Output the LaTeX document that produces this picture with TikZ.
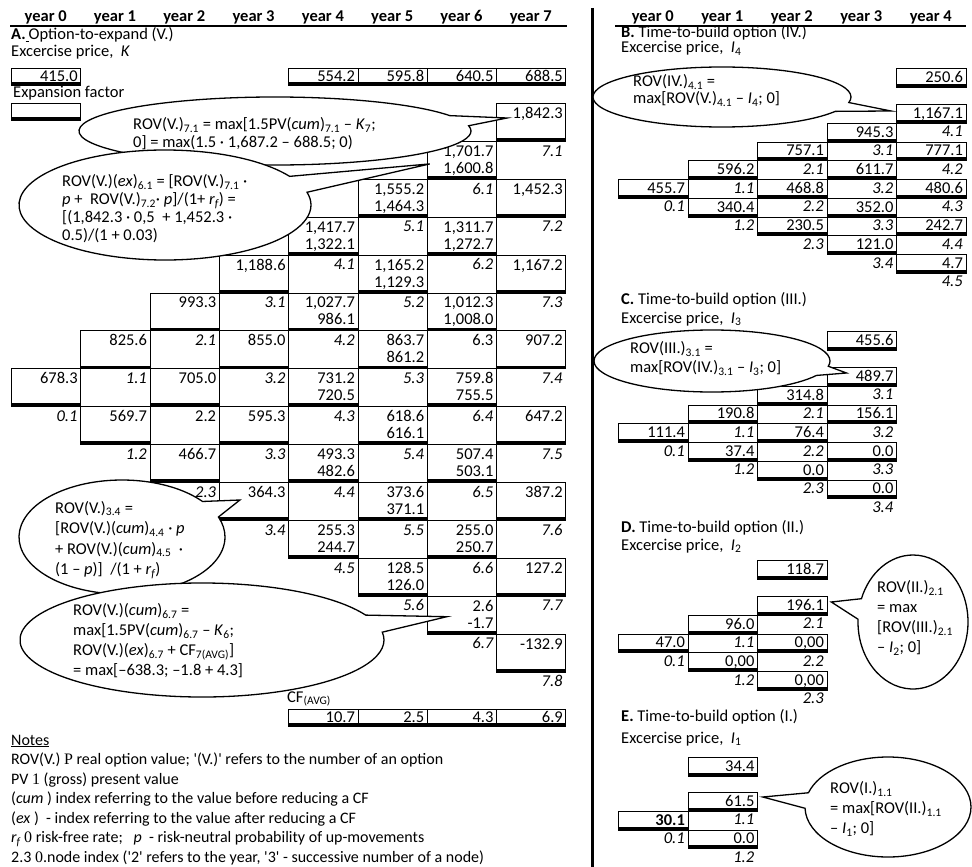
\documentclass[tikz,border=0pt]{standalone}
\usepackage{fontspec}
\setmainfont{Carlito}
\newfontfamily\serifglyph{Liberation Serif}
\usetikzlibrary{shapes.callouts}
\usetikzlibrary{calc}
\newcommand\tabfont{\fontsize{16.5}{19}\selectfont}
\newcommand\cellfont{\fontsize{16.5}{17}\selectfont}
\newcommand\notefont{\fontsize{16}{19}\selectfont}

\begin{document}
\begin{tikzpicture}[x=1pt,y=-1pt,font=\tabfont,
    cellline/.style={draw,line width=0.8pt,path picture={\draw[line width=6.4pt] (path picture bounding box.south west) -- (path picture bounding box.south east);}},
    lbox/.style={anchor=north west,minimum width=69.3pt,text width=63.3pt,align=right,inner xsep=3pt,inner ysep=0pt,text height=15pt,text depth=22.9pt,font=\cellfont},
    lcell/.style={lbox,cellline},
    lidx/.style={lbox,font=\cellfont\itshape},
    rbox/.style={anchor=north west,minimum width=69.5pt,text width=63.5pt,align=right,inner xsep=3pt,inner ysep=0pt,text height=14pt,text depth=4.75pt},
    rcell/.style={rbox,cellline},
    ridx/.style={rbox,font=\tabfont\itshape},
    pbox/.style={lcell,text height=13pt,text depth=4pt},
    head/.style={anchor=base,font=\tabfont\bfseries},
    title/.style={anchor=base west,inner sep=0pt},
    note/.style={anchor=base west,inner sep=0pt,font=\notefont},
    bubble/.style={ellipse callout,draw,fill=white,line width=1.3pt,inner sep=0pt,callout pointer arc=18},
    bubtext/.style={anchor=north west,align=left,inner sep=0pt}]
\useasboundingbox (0,0) rectangle (972,867);

% headers and divider
\node[head] (ya0) at (45.7,21.7) {year 0};
\node[head] (ya1) at (115,21.7) {year 1};
\node[head] (ya2) at (184.3,21.7) {year 2};
\node[head] (ya3) at (253.6,21.7) {year 3};
\node[head] (ya4) at (322.9,21.7) {year 4};
\node[head] (ya5) at (392.2,21.7) {year 5};
\node[head] (ya6) at (461.5,21.7) {year 6};
\node[head] (ya7) at (530.8,21.7) {year 7};
\node[head] (yb0) at (652.8,21.7) {year 0};
\node[head] (yb1) at (722.3,21.7) {year 1};
\node[head] (yb2) at (791.8,21.7) {year 2};
\node[head] (yb3) at (861.3,21.7) {year 3};
\node[head] (yb4) at (930.8,21.7) {year 4};
\draw[line width=1.8pt] (10,26) -- (567,26);
\draw[line width=1.8pt] (615,26) -- (966,26);
\draw[line width=3pt] (592,8) -- (592,867);

% A. option to expand
\node[title] (tA) at (11,39.5) {\textbf{A.}\underline{\hspace{3pt}}Option-to-expand (V.)};
\node[title] (kA) at (11,57) {Excercise price,\ \ \textit{K}};
\node[pbox] (pA0) at (11,68) {415.0};
\node[pbox] (pA4) at (288.2,68) {554.2};
\node[pbox] (pA5) at (357.5,68) {595.8};
\node[pbox] (pA6) at (426.8,68) {640.5};
\node[pbox] (pA7) at (496.1,68) {688.5};
\node[title] (eA) at (13,97) {Expansion factor};
\node[pbox] (fA0) at (11,103) {};

\begin{scope}[shift={(11,103)},x=69.3pt,y=-37.9pt]
\node[lcell] (a71) at (7,0) {1,842.3};
\node[lidx] (ai71) at (7,1) {7.1};
\node[lcell] (a72) at (7,2) {1,452.3};
\node[lidx] (ai72) at (7,3) {7.2};
\node[lcell] (a73) at (7,4) {1,167.2};
\node[lidx] (ai73) at (7,5) {7.3};
\node[lcell] (a74) at (7,6) {907.2};
\node[lidx] (ai74) at (7,7) {7.4};
\node[lcell] (a75) at (7,8) {647.2};
\node[lidx] (ai75) at (7,9) {7.5};
\node[lcell] (a76) at (7,10) {387.2};
\node[lidx] (ai76) at (7,11) {7.6};
\node[lcell] (a77) at (7,12) {127.2};
\node[lidx] (ai77) at (7,13) {7.7};
\node[lcell] (a78) at (7,14) {-132.9};
\node[lidx] (ai78) at (7,15) {7.8};

\node[lcell] (a61) at (6,1) {1,701.7\\1,600.8};
\node[lidx] (ai61) at (6,2) {6.1};
\node[lcell] (a62) at (6,3) {1,311.7\\1,272.7};
\node[lidx] (ai62) at (6,4) {6.2};
\node[lcell] (a63) at (6,5) {1,012.3\\1,008.0};
\node[lidx,font=\cellfont] (ai63) at (6,6) {6.3};
\node[lcell] (a64) at (6,7) {759.8\\755.5};
\node[lidx] (ai64) at (6,8) {6.4};
\node[lcell] (a65) at (6,9) {507.4\\503.1};
\node[lidx] (ai65) at (6,10) {6.5};
\node[lcell] (a66) at (6,11) {255.0\\250.7};
\node[lidx] (ai66) at (6,12) {6.6};
\node[lcell] (a67) at (6,13) {2.6\\-1.7};
\node[lidx] (ai67) at (6,14) {6.7};

\node[lcell] (a51) at (5,2) {1,555.2\\1,464.3};
\node[lidx] (ai51) at (5,3) {5.1};
\node[lcell] (a52) at (5,4) {1,165.2\\1,129.3};
\node[lidx] (ai52) at (5,5) {5.2};
\node[lcell] (a53) at (5,6) {863.7\\861.2};
\node[lidx] (ai53) at (5,7) {5.3};
\node[lcell] (a54) at (5,8) {618.6\\616.1};
\node[lidx] (ai54) at (5,9) {5.4};
\node[lcell] (a55) at (5,10) {373.6\\371.1};
\node[lidx] (ai55) at (5,11) {5.5};
\node[lcell] (a56) at (5,12) {128.5\\126.0};
\node[lidx] (ai56) at (5,13) {5.6};

\node[lcell] (a41) at (4,3) {1,417.7\\1,322.1};
\node[lidx] (ai41) at (4,4) {4.1};
\node[lcell] (a42) at (4,5) {1,027.7\\986.1};
\node[lidx] (ai42) at (4,6) {4.2};
\node[lcell] (a43) at (4,7) {731.2\\720.5};
\node[lidx] (ai43) at (4,8) {4.3};
\node[lcell] (a44) at (4,9) {493.3\\482.6};
\node[lidx] (ai44) at (4,10) {4.4};
\node[lcell] (a45) at (4,11) {255.3\\244.7};
\node[lidx] (ai45) at (4,12) {4.5};

\node[lcell] (a31) at (3,4) {1,188.6};
\node[lidx] (ai31) at (3,5) {3.1};
\node[lcell] (a32) at (3,6) {855.0};
\node[lidx] (ai32) at (3,7) {3.2};
\node[lcell] (a33) at (3,8) {595.3};
\node[lidx] (ai33) at (3,9) {3.3};
\node[lcell] (a34) at (3,10) {364.3};
\node[lidx] (ai34) at (3,11) {3.4};

\node[lcell] (a21) at (2,5) {993.3};
\node[lidx] (ai21) at (2,6) {2.1};
\node[lcell] (a22) at (2,7) {705.0};
\node[lidx,font=\cellfont] (ai22) at (2,8) {2.2};
\node[lcell] (a23) at (2,9) {466.7};
\node[lidx] (ai23) at (2,10) {2.3};

\node[lcell] (a11) at (1,6) {825.6};
\node[lidx] (ai11) at (1,7) {1.1};
\node[lcell] (a12) at (1,8) {569.7};
\node[lidx] (ai12) at (1,9) {1.2};

\node[lcell] (a01) at (0,7) {678.3};
\node[lidx] (ai01) at (0,8) {0.1};
\end{scope}

% average cash flows
\node[title] (cfA) at (287,702) {CF\textsubscript{(AVG)}};
\node[pbox] (cf4) at (288.2,709) {10.7};
\node[pbox] (cf5) at (357.5,709) {2.5};
\node[pbox] (cf6) at (426.8,709) {4.3};
\node[pbox] (cf7) at (496.1,709) {6.9};

% notes
\node[note] (n0) at (11,745) {\underline{Notes}};
\node[note] (n1) at (11,764.5) {ROV(V.) {\serifglyph P} real option value; \textquotesingle(V.)\textquotesingle\ refers to the number of an option};
\node[note] (n2) at (11,784) {PV {\serifglyph 1} (gross) present value};
\node[note] (n3) at (11,803.5) {(\textit{cum} ) index referring to the value before reducing a CF};
\node[note] (n4) at (11,823) {(\textit{ex} ) \ - index referring to the value after reducing a CF};
\node[note] (n5) at (11,842.5) {\textit{r\textsubscript{f}} {\serifglyph 0} risk-free rate;\ \ \ \textit{p} \ - risk-neutral probability of up-movements};
\node[note] (n6) at (11,862) {2.3 {\serifglyph 0}.node index (\textquotesingle2\textquotesingle\ refers to the year, \textquotesingle3\textquotesingle\ - successive number of a node)};

% callouts of panel A
\node[bubble,minimum width=392pt,minimum height=68pt,
  callout absolute pointer={($(a71.north west)+(11,15)$)}] (bubA71) at (275,131) {};
\node[bubtext,font=\fontsize{16.5}{17.5}\selectfont] (txtA71) at (133,117.5)
  {ROV(V.)\textsubscript{7.1} = max[1.5PV(\textit{cum})\textsubscript{7.1} -- \textit{K}\textsubscript{7};\\0] = max(1.5 · 1,687.2 -- 688.5; 0)};
\node[bubble,minimum width=292pt,minimum height=110pt,
  callout absolute pointer={($(a61.north west)+(3,23)$)}] (bubA61) at (165,205) {};
\node[bubtext,font=\fontsize{16.5}{18}\selectfont] (txtA61) at (62,174.5)
  {ROV(V.)(\textit{ex})\textsubscript{6.1} = [ROV(V.)\textsubscript{7.1} ·\\\textit{p} +\ \ ROV(V.)\textsubscript{7.2}· \textit{p}]/(1+ \textit{r\textsubscript{f}}) =\\{}[(1,842.3 · 0,5\ \ + 1,452.3 ·\\0.5)/(1 + 0.03)};
\node[bubble,minimum width=206pt,minimum height=114pt,
  callout absolute pointer={($(a34.north west)+(21,18)$)}] (bubA34) at (122,537) {};
\node[bubtext,font=\fontsize{16.5}{20.5}\selectfont] (txtA34) at (55,501)
  {ROV(V.)\textsubscript{3.4} =\\{}[ROV(V.)(\textit{cum})\textsubscript{4.4} · \textit{p}\\+ ROV(V.)(\textit{cum})\textsubscript{4.5}\ \ ·\\(1 -- \textit{p})]\ \ /(1 + \textit{r\textsubscript{f}})};
\node[bubble,minimum width=364pt,minimum height=114pt,
  callout absolute pointer={($(a67.north west)+(20,21)$)}] (bubA67) at (202,640) {};
\node[bubtext,font=\fontsize{16.5}{20}\selectfont] (txtA67) at (73,603.5)
  {ROV(V.)(\textit{cum})\textsubscript{6.7} =\\max[1.5PV(\textit{cum})\textsubscript{6.7} -- \textit{K}\textsubscript{6};\\ROV(V.)(\textit{ex})\textsubscript{6.7} + CF\textsubscript{7(AVG)}]\\= max[--638.3; --1.8 + 4.3]};

% B. time-to-build option IV
\node[title] (tB) at (621,38) {\textbf{B.} Time-to-build option (IV.)};
\node[title] (kB) at (621,53) {Excercise price,\ \ \textit{I}\textsubscript{4}};
\node[rcell] (pB) at (896,68) {250.6};
\begin{scope}[shift={(618,104)},x=69.5pt,y=-18.75pt]
\node[rcell] (b41) at (4,0) {1,167.1};
\node[ridx] (bi41) at (4,1) {4.1};
\node[rcell] (b42) at (4,2) {777.1};
\node[ridx] (bi42) at (4,3) {4.2};
\node[rcell] (b43) at (4,4) {480.6};
\node[ridx] (bi43) at (4,5) {4.3};
\node[rcell] (b44) at (4,6) {242.7};
\node[ridx] (bi44) at (4,7) {4.4};
\node[rcell] (b45) at (4,8) {4.7};
\node[ridx] (bi45) at (4,9) {4.5};
\node[rcell] (b31) at (3,1) {945.3};
\node[ridx] (bi31) at (3,2) {3.1};
\node[rcell] (b32) at (3,3) {611.7};
\node[ridx] (bi32) at (3,4) {3.2};
\node[rcell] (b33) at (3,5) {352.0};
\node[ridx] (bi33) at (3,6) {3.3};
\node[rcell] (b34) at (3,7) {121.0};
\node[ridx] (bi34) at (3,8) {3.4};
\node[rcell] (b21) at (2,2) {757.1};
\node[ridx] (bi21) at (2,3) {2.1};
\node[rcell] (b22) at (2,4) {468.8};
\node[ridx] (bi22) at (2,5) {2.2};
\node[rcell] (b23) at (2,6) {230.5};
\node[ridx] (bi23) at (2,7) {2.3};
\node[rcell] (b11) at (1,3) {596.2};
\node[ridx] (bi11) at (1,4) {1.1};
\node[rcell] (b12) at (1,5) {340.4};
\node[ridx] (bi12) at (1,6) {1.2};
\node[rcell] (b01) at (0,4) {455.7};
\node[ridx] (bi01) at (0,5) {0.1};
\end{scope}
\node[bubble,minimum width=258pt,minimum height=60pt,
  callout absolute pointer={($(b41.north west)+(-5,7)$)}] (bubB) at (722,97) {};
\node[bubtext,font=\fontsize{16.5}{17}\selectfont] (txtB) at (633,74.5)
  {ROV(IV.)\textsubscript{4.1} =\\max[ROV(V.)\textsubscript{4.1} -- \textit{I}\textsubscript{4}; 0]};

% C. time-to-build option III
\node[title] (tC) at (621,304) {\textbf{C.} Time-to-build option (III.)};
\node[title] (kC) at (621,323) {Excercise price,\ \ \textit{I}\textsubscript{3}};
\node[rcell] (pC) at (826.5,331) {455.6};
\begin{scope}[shift={(618,367)},x=69.5pt,y=-18.75pt]
\node[rcell] (c31) at (3,0) {489.7};
\node[ridx] (ci31) at (3,1) {3.1};
\node[rcell] (c32) at (3,2) {156.1};
\node[ridx] (ci32) at (3,3) {3.2};
\node[rcell] (c33) at (3,4) {0.0};
\node[ridx] (ci33) at (3,5) {3.3};
\node[rcell] (c34) at (3,6) {0.0};
\node[ridx] (ci34) at (3,7) {3.4};
\node[rcell] (c21) at (2,1) {314.8};
\node[ridx] (ci21) at (2,2) {2.1};
\node[rcell] (c22) at (2,3) {76.4};
\node[ridx] (ci22) at (2,4) {2.2};
\node[rcell] (c23) at (2,5) {0.0};
\node[ridx] (ci23) at (2,6) {2.3};
\node[rcell] (c11) at (1,2) {190.8};
\node[ridx] (ci11) at (1,3) {1.1};
\node[rcell] (c12) at (1,4) {37.4};
\node[ridx] (ci12) at (1,5) {1.2};
\node[rcell] (c01) at (0,3) {111.4};
\node[ridx] (ci01) at (0,4) {0.1};
\end{scope}
\node[bubble,minimum width=236pt,minimum height=62pt,
  callout absolute pointer={($(c31.north west)+(20,6)$)}] (bubC) at (712,361) {};
\node[bubtext,font=\fontsize{16.5}{19}\selectfont] (txtC) at (630,341.5)
  {ROV(III.)\textsubscript{3.1} =\\max[ROV(IV.)\textsubscript{3.1} -- \textit{I}\textsubscript{3}; 0]};

% D. time-to-build option II
\node[title] (tD) at (621,532) {\textbf{D.} Time-to-build option (II.)};
\node[title] (kD) at (621,550) {Excercise price,\ \ \textit{I}\textsubscript{2}};
\node[rcell] (pD) at (757,560) {118.7};
\begin{scope}[shift={(618,596)},x=69.5pt,y=-18.75pt]
\node[rcell] (d21) at (2,0) {196.1};
\node[ridx] (di21) at (2,1) {2.1};
\node[rcell] (d22) at (2,2) {0,00};
\node[ridx] (di22) at (2,3) {2.2};
\node[rcell] (d23) at (2,4) {0,00};
\node[ridx] (di23) at (2,5) {2.3};
\node[rcell] (d11) at (1,1) {96.0};
\node[ridx] (di11) at (1,2) {1.1};
\node[rcell] (d12) at (1,3) {0,00};
\node[ridx] (di12) at (1,4) {1.2};
\node[rcell] (d01) at (0,2) {47.0};
\node[ridx] (di01) at (0,3) {0.1};
\end{scope}
\node[bubble,minimum width=110pt,minimum height=134pt,
  callout absolute pointer={($(d21.north east)+(4,6)$)}] (bubD) at (913,622) {};
\node[bubtext,font=\fontsize{16.5}{20}\selectfont] (txtD) at (877,580.5)
  {ROV(II.)\textsubscript{2.1}\\= max\\{}[ROV(III.)\textsubscript{2.1}\\-- \textit{I}\textsubscript{2}; 0]};

% E. time-to-build option I
\node[title] (tE) at (621,721) {\textbf{E.} Time-to-build option (I.)};
\node[title] (kE) at (621,743) {Excercise price,\ \ \textit{I}\textsubscript{1}};
\node[rcell] (pE) at (687.5,757) {34.4};
\begin{scope}[shift={(618,792)},x=69.5pt,y=-18.75pt]
\node[rcell] (e11) at (1,0) {61.5};
\node[ridx] (ei11) at (1,1) {1.1};
\node[rcell] (e12) at (1,2) {0.0};
\node[ridx] (ei12) at (1,3) {1.2};
\node[rcell] (e01) at (0,1) {\textbf{30.1}};
\node[ridx] (ei01) at (0,2) {0.1};
\end{scope}
\node[bubble,minimum width=166pt,minimum height=100pt,
  callout absolute pointer={($(e11.north east)+(5,5)$)}] (bubE) at (888,807) {};
\node[bubtext,font=\fontsize{16.5}{20}\selectfont] (txtE) at (830,781.5)
  {ROV(I.)\textsubscript{1.1}\\= max[ROV(II.)\textsubscript{1.1}\\-- \textit{I}\textsubscript{1}; 0]};
\end{tikzpicture}
\end{document}
